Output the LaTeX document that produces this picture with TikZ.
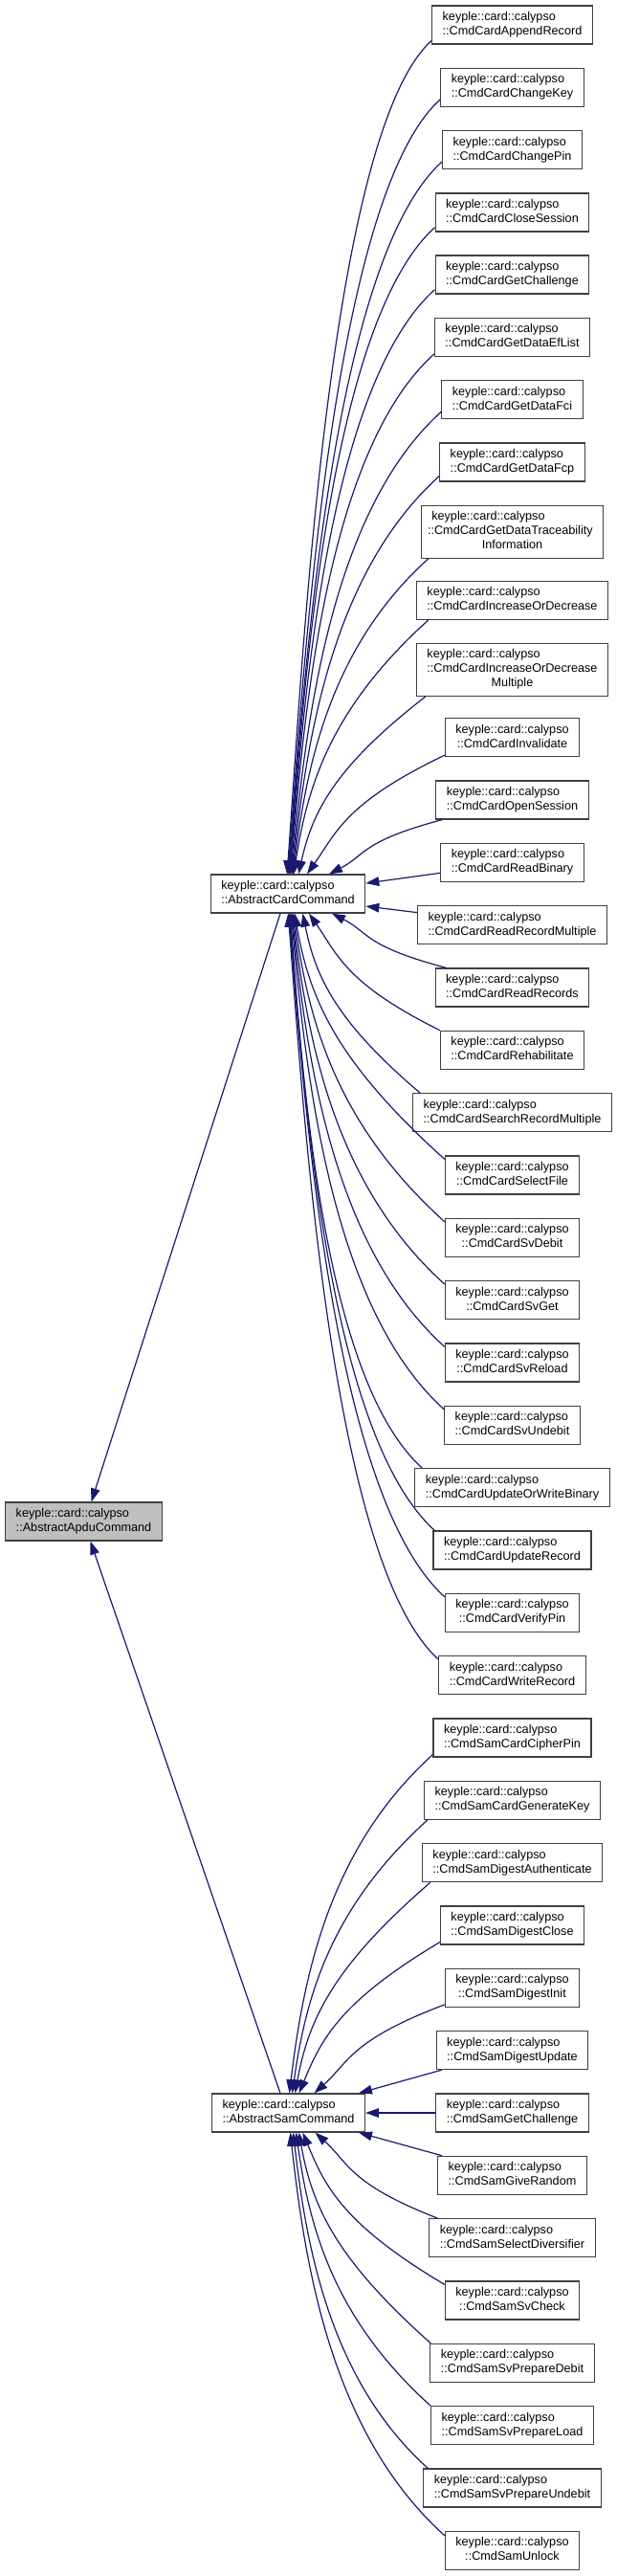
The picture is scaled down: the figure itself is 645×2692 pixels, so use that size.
\documentclass[tikz,border=0pt]{standalone}
\usepackage{fontspec}
\setmainfont{Liberation Sans}
\usetikzlibrary{arrows.meta,calc}
\definecolor{edgecol}{HTML}{191970}
\definecolor{rootfill}{HTML}{BFBFBF}
\definecolor{boxline}{HTML}{404040}
\tikzset{
 cls/.style={draw=boxline, line width=0.9pt, fill=white, rectangle, inner xsep=8.25pt, inner ysep=3.75pt, font=\fontsize{9.5pt}{11.25pt}\selectfont, anchor=center},
 rootcls/.style={cls, fill=rootfill},
 edge/.style={draw=edgecol, line width=0.9pt, -{Triangle[length=10.5pt,width=7.2pt]}},
}
\newcommand\twol[2]{\begin{tabular}{@{}l@{}}#1\\\multicolumn{1}{@{}c@{}}{#2}\end{tabular}}
\newcommand\threel[3]{\begin{tabular}{@{}l@{}}#1\\#2\\\multicolumn{1}{@{}c@{}}{#3}\end{tabular}}
\newcommand\kcc{keyple::card::calypso}
% edge from a child above its parent, ending on the parent's top side
\newcommand\edgeup[3]{%
 \draw[edge] let \p1=($(#1.south west)+(#2)$), \p2=#3 in
  (\p1) .. controls +({-0.72*(\x1-\x2)},{-min(0.65*(\x1-\x2),0.4*(\y1-\y2))})
  and +({(\x1-\x2)*max(0.1,0.42-(\y1-\y2)/450)},{min(0.35*(\y1-\y2),150)}) .. (\p2);}
% edge from a child below its parent, ending on the parent's bottom side
\newcommand\edgedown[3]{%
 \draw[edge] let \p1=($(#1.north west)+(#2)$), \p2=#3 in
  (\p1) .. controls +({-0.72*(\x1-\x2)},{min(0.65*(\x1-\x2),0.4*(\y2-\y1))})
  and +({(\x1-\x2)*max(0.1,0.42-(\y2-\y1)/450)},{-min(0.35*(\y2-\y1),150)}) .. (\p2);}
\begin{document}
\begin{tikzpicture}[x=0.75pt,y=-0.75pt]
\useasboundingbox (0,0) rectangle (645,2692);
% parents
\node[rootcls] (R) at (87.5,1590) {\twol{\kcc}{::AbstractApduCommand}};
\node[cls] (P) at (301,934) {\twol{\kcc}{::AbstractCardCommand}};
\node[cls] (Q) at (301.5,2208) {\twol{\kcc}{::AbstractSamCommand}};
% card commands
\node[cls] (c1) at (535.5,26) {\twol{\kcc}{::CmdCardAppendRecord}};
\node[cls] (c2) at (535.5,91.3) {\twol{\kcc}{::CmdCardChangeKey}};
\node[cls] (c3) at (535.5,156.5) {\twol{\kcc}{::CmdCardChangePin}};
\node[cls] (c4) at (535.5,222) {\twol{\kcc}{::CmdCardCloseSession}};
\node[cls] (c5) at (535.5,287) {\twol{\kcc}{::CmdCardGetChallenge}};
\node[cls] (c6) at (535.5,352.3) {\twol{\kcc}{::CmdCardGetDataEfList}};
\node[cls] (c7) at (535.5,417.7) {\twol{\kcc}{::CmdCardGetDataFci}};
\node[cls] (c8) at (535.5,483) {\twol{\kcc}{::CmdCardGetDataFcp}};
\node[cls] (c9) at (535.5,555.8) {\threel{\kcc}{\hspace*{-3.2pt}::CmdCardGetDataTraceability}{Information}};
\node[cls] (c10) at (535.5,627.3) {\twol{\kcc}{::CmdCardIncreaseOrDecrease}};
\node[cls] (c11) at (535.5,699.8) {\threel{\kcc}{::CmdCardIncreaseOrDecrease}{Multiple}};
\node[cls] (c12) at (535.5,770.6) {\twol{\kcc}{::CmdCardInvalidate}};
\node[cls] (c13) at (535.5,836) {\twol{\kcc}{::CmdCardOpenSession}};
\node[cls] (c14) at (535.5,901.3) {\twol{\kcc}{::CmdCardReadBinary}};
\node[cls] (c15) at (535.5,966.6) {\twol{\kcc}{::CmdCardReadRecordMultiple}};
\node[cls] (c16) at (535.5,1032) {\twol{\kcc}{::CmdCardReadRecords}};
\node[cls] (c17) at (535.5,1097.3) {\twol{\kcc}{::CmdCardRehabilitate}};
\node[cls] (c18) at (535.5,1162.6) {\twol{\kcc}{::CmdCardSearchRecordMultiple}};
\node[cls] (c19) at (535.5,1228) {\twol{\kcc}{::CmdCardSelectFile}};
\node[cls] (c20) at (535.5,1293.3) {\twol{\kcc}{::CmdCardSvDebit}};
\node[cls] (c21) at (535.5,1358.6) {\twol{\kcc}{::CmdCardSvGet}};
\node[cls] (c22) at (535.5,1424) {\twol{\kcc}{::CmdCardSvReload}};
\node[cls] (c23) at (535.5,1489.3) {\twol{\kcc}{::CmdCardSvUndebit}};
\node[cls] (c24) at (535.5,1554.6) {\twol{\kcc}{::CmdCardUpdateOrWriteBinary}};
\node[cls] (c25) at (535.5,1620) {\twol{\kcc}{::CmdCardUpdateRecord}};
\node[cls] (c26) at (535.5,1685.3) {\twol{\kcc}{::CmdCardVerifyPin}};
\node[cls] (c27) at (535.5,1750.6) {\twol{\kcc}{::CmdCardWriteRecord}};
% sam commands
\node[cls] (s1) at (535.5,1816) {\twol{\kcc}{::CmdSamCardCipherPin}};
\node[cls] (s2) at (535.5,1881.3) {\twol{\kcc}{::CmdSamCardGenerateKey}};
\node[cls] (s3) at (535.5,1946.6) {\twol{\kcc}{::CmdSamDigestAuthenticate}};
\node[cls] (s4) at (535.5,2012) {\twol{\kcc}{::CmdSamDigestClose}};
\node[cls] (s5) at (535.5,2077.3) {\twol{\kcc}{::CmdSamDigestInit}};
\node[cls] (s6) at (535.5,2142.6) {\twol{\kcc}{::CmdSamDigestUpdate}};
\node[cls] (s7) at (535.5,2208) {\twol{\kcc}{::CmdSamGetChallenge}};
\node[cls] (s8) at (535.5,2273.3) {\twol{\kcc}{::CmdSamGiveRandom}};
\node[cls] (s9) at (535.5,2338.6) {\twol{\kcc}{::CmdSamSelectDiversifier}};
\node[cls] (s10) at (535.5,2404) {\twol{\kcc}{::CmdSamSvCheck}};
\node[cls] (s11) at (535.5,2469.3) {\twol{\kcc}{::CmdSamSvPrepareDebit}};
\node[cls] (s12) at (535.5,2534.6) {\twol{\kcc}{::CmdSamSvPrepareLoad}};
\node[cls] (s13) at (535.5,2600) {\twol{\kcc}{::CmdSamSvPrepareUndebit}};
\node[cls] (s14) at (535.5,2665.3) {\twol{\kcc}{::CmdSamUnlock}};
% edges to the root
\draw[edge] ($(P.south)+(-8,0)$) -- ($(R.north)+(8,0)$);
\draw[edge] ($(Q.north)+(-8.5,0)$) -- ($(R.south)+(7,0)$);
% card edges above
\edgeup{c1}{0,-4}{($(P.north)+(-1,0)$)}
\edgeup{c2}{0,-8}{($(P.north)+(-0.2,0)$)}
\edgeup{c3}{0,-8}{($(P.north)+(0.6,0)$)}
\edgeup{c4}{0,-5}{($(P.north)+(1.4,0)$)}
\edgeup{c5}{0,-5}{($(P.north)+(2.2,0)$)}
\edgeup{c6}{0,-3}{($(P.north)+(3,0)$)}
\edgeup{c7}{0,-8}{($(P.north)+(3.8,0)$)}
\edgeup{c8}{0,-6}{($(P.north)+(4.6,0)$)}
\edgeup{c9}{8,0}{($(P.north)+(5.4,0)$)}
\edgeup{c10}{13,0}{($(P.north)+(6.2,0)$)}
\edgeup{c11}{10,0}{($(P.north)+(11,0)$)}
\edgeup{c12}{0,-2}{($(P.north)+(20,0)$)}
\edgeup{c13}{7,0}{($(P.north)+(43,0)$)}
% card edges to the side
\draw[edge] ($(c14.west)+(0,11)$) -- ($(P.east)+(0,-11)$);
\draw[edge] ($(c15.west)+(0,-13)$) -- ($(P.east)+(0,13)$);
% card edges below
\edgedown{c16}{12,0}{($(P.south)+(46,0)$)}
\edgedown{c17}{0,0}{($(P.south)+(22,0)$)}
\edgedown{c18}{8,0}{($(P.south)+(15.5,0)$)}
\edgedown{c19}{0,4}{($(P.south)+(7,0)$)}
\edgedown{c20}{0,4}{($(P.south)+(6,0)$)}
\edgedown{c21}{0,4}{($(P.south)+(5,0)$)}
\edgedown{c22}{0,4}{($(P.south)+(4.2,0)$)}
\edgedown{c23}{0,4}{($(P.south)+(3.4,0)$)}
\edgedown{c24}{8,0}{($(P.south)+(2.6,0)$)}
\edgedown{c25}{2,0}{($(P.south)+(1.8,0)$)}
\edgedown{c26}{0,4}{($(P.south)+(1,0)$)}
\edgedown{c27}{0,4}{($(P.south)+(0.2,0)$)}
% sam edges above
\edgeup{s1}{0,-3}{($(Q.north)+(1,0)$)}
\edgeup{s2}{4,0}{($(Q.north)+(4,0)$)}
\edgeup{s3}{9,0}{($(Q.north)+(7,0)$)}
\edgeup{s4}{0,-3}{($(Q.north)+(11,0)$)}
\edgeup{s5}{0,-3}{($(Q.north)+(27,0)$)}
\draw[edge] ($(s6.south west)+(6,0)$) -- ($(Q.north)+(73.5,0)$);
% sam edge to the side
\draw[edge] (s7.west) -- (Q.east);
% sam edges below
\draw[edge] ($(s8.north west)+(5,0)$) -- ($(Q.south)+(73.5,0)$);
\edgedown{s9}{9,0}{($(Q.south)+(28,0)$)}
\edgedown{s10}{0,4}{($(Q.south)+(15,0)$)}
\edgedown{s11}{1,0}{($(Q.south)+(11,0)$)}
\edgedown{s12}{0,0}{($(Q.south)+(8,0)$)}
\edgedown{s13}{5,0}{($(Q.south)+(5,0)$)}
\edgedown{s14}{0,5}{($(Q.south)+(2,0)$)}
\end{tikzpicture}
\end{document}
